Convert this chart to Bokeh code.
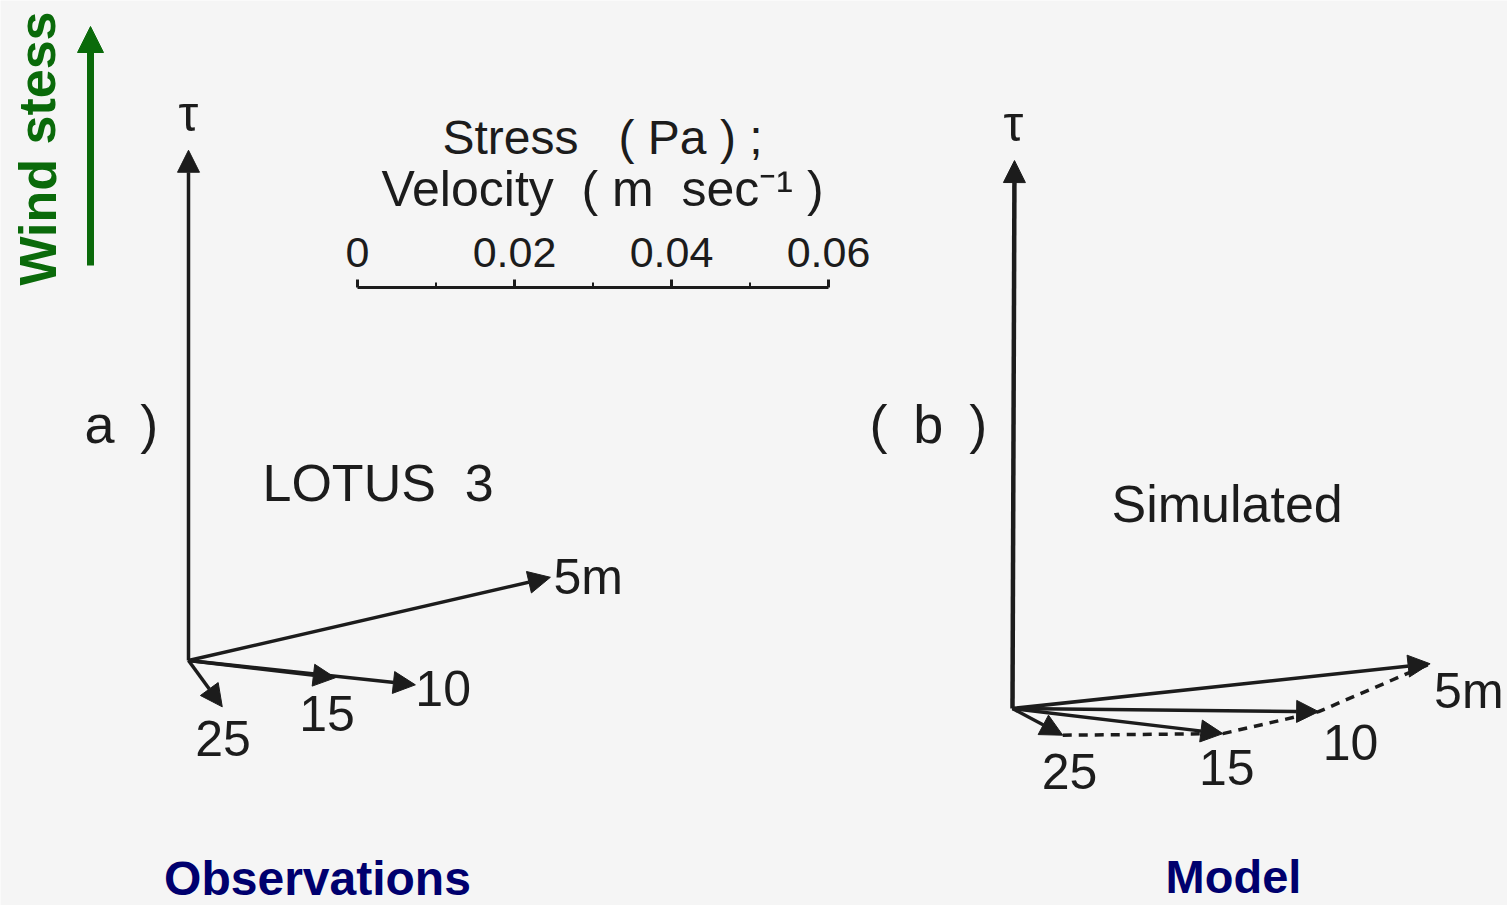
from bokeh.plotting import figure
from bokeh.models import Range1d, Arrow, NormalHead
from bokeh.core.properties import value
from bokeh.embed import file_html
from bokeh.resources import INLINE

# Depth labels of the current vectors
depth_labels = ["5m", "10", "15", "25"]
# LOTUS 3 observed current components (m/s): east, north
obs_u = [0.0461, 0.0289, 0.0187, 0.0043]
obs_v = [0.0106, -0.0031, -0.0022, -0.0059]
# Simulated current components (m/s)
model_u = [0.0532, 0.0390, 0.0268, 0.0064]
model_v = [0.0057, -0.0004, -0.0032, -0.0034]
# Wind stress (Pa), pointing north
obs_stress = 0.065
model_stress = 0.0698
# Scale bar ticks
scale_ticks = [0, 0.02, 0.04, 0.06]
scale_minor = [0.01, 0.03, 0.05]

W, H = 1507, 905
S = 7850.0           # screen pixels per unit (Pa or m/s)
OX, OY = 188, 660    # screen position of panel (a) origin
SP = "\u00a0"        # non-collapsing space for wide typewriter-style gaps
TH = "\u2009"        # thin space


def X(px):
    return (px - OX) / S


def Y(py):
    return (OY - py) / S


INK = "#1c1c1c"
FONT = value("Liberation Sans")

p = figure(width=W, height=H, output_backend="svg", toolbar_location=None,
           x_range=Range1d(X(0), X(W)), y_range=Range1d(Y(H), Y(0)),
           min_border=0, background_fill_color="#f5f5f5",
           border_fill_color="#f5f5f5", outline_line_color=None)
p.xaxis.visible = False
p.yaxis.visible = False
p.xgrid.visible = False
p.ygrid.visible = False


def txt(x, y, s, size, color=INK, align="left", style="normal", angle=0.0):
    p.text(x=[x], y=[y], text=[s], text_font=FONT, text_font_size=f"{size}px",
           text_color=color, text_align=align, text_baseline="middle",
           text_font_style=style, angle=angle)


def arrow(x0, y0, x1, y1, lw=3.5, size=22, color=INK):
    p.add_layout(Arrow(end=NormalHead(size=size, fill_color=color, line_color=color),
                       x_start=x0, y_start=y0, x_end=x1, y_end=y1,
                       line_width=lw, line_color=color))


# ---- panel (a): observations ----
ax, ay = 0.0, 0.0
arrow(ax, ay, ax, ay + obs_stress)
txt(X(188), Y(113), "τ", 50, align="center")
for u, v in zip(obs_u, obs_v):
    arrow(ax, ay, ax + u, ay + v)
obs_offsets = [(3, 0), (0, 4), (-36, 36), (-27, 32)]
for lab, u, v, (dx, dy) in zip(depth_labels, obs_u, obs_v, obs_offsets):
    txt(ax + u + dx / S, ay + v - dy / S, lab, 50)
txt(X(84), Y(423), "a" + SP + TH + ")", 54)
txt(X(262), Y(482), "LOTUS" + SP * 2 + "3", 52)

# ---- panel (b): model ----
bx, by = X(1012), Y(708)
arrow(bx, by, bx + 2 / S, by + model_stress, lw=4.5)
txt(X(1013), Y(123), "τ", 50, align="center")
for u, v in zip(model_u, model_v):
    arrow(bx, by, bx + u, by + v)
# dashed curve joining the vector tips from deep to shallow
p.line(x=[bx + u for u in model_u[::-1]], y=[by + v for v in model_v[::-1]],
       line_color=INK, line_width=3.5, line_dash="9 7")
model_offsets = [(4, 27), (4, 31), (-24, 34), (-21, 36)]
for lab, u, v, (dx, dy) in zip(depth_labels, model_u, model_v, model_offsets):
    txt(bx + u + dx / S, by + v - dy / S, lab, 50)
txt(X(869), Y(423), "(" + SP + TH + "b" + SP + TH + ")", 54)
txt(X(1111), Y(503), "Simulated", 52)

# ---- scale bar ----
sx, sy = X(357), Y(287)
txt(X(602), Y(137), "Stress" + SP * 3 + "(" + SP + "Pa" + SP + ")" + SP + ";", 48,
    align="center")
txt(X(602), Y(188), "Velocity" + SP * 2 + "(" + SP + "m" + SP * 2 + "sec⁻¹" + SP + ")", 50,
    align="center")
p.line(x=[sx, sx + scale_ticks[-1]], y=[sy, sy], line_color=INK, line_width=3)
p.segment(x0=[sx + t for t in scale_ticks], y0=[sy] * len(scale_ticks),
          x1=[sx + t for t in scale_ticks], y1=[sy + 8 / S] * len(scale_ticks),
          line_color=INK, line_width=3)
p.segment(x0=[sx + t for t in scale_minor], y0=[sy] * len(scale_minor),
          x1=[sx + t for t in scale_minor], y1=[sy + 5 / S] * len(scale_minor),
          line_color=INK, line_width=2)
for t in scale_ticks:
    lab = "0" if t == 0 else f"{t:.2f}"
    txt(sx + t, Y(252), lab, 43, align="center")

# ---- annotations ----
GREEN = "#0a6a0a"
arrow(X(90), Y(265), X(90), Y(26), lw=7, size=26, color=GREEN)
txt(X(37), Y(148), "Wind stess", 52, color=GREEN, align="center", style="bold",
    angle=1.5708)
NAVY = "#00006e"
txt(X(317), Y(878), "Observations", 48, color=NAVY, align="center", style="bold")
txt(X(1233), Y(876), "Model", 47, color=NAVY, align="center", style="bold")

open("out.html", "w").write(file_html(p, INLINE))
